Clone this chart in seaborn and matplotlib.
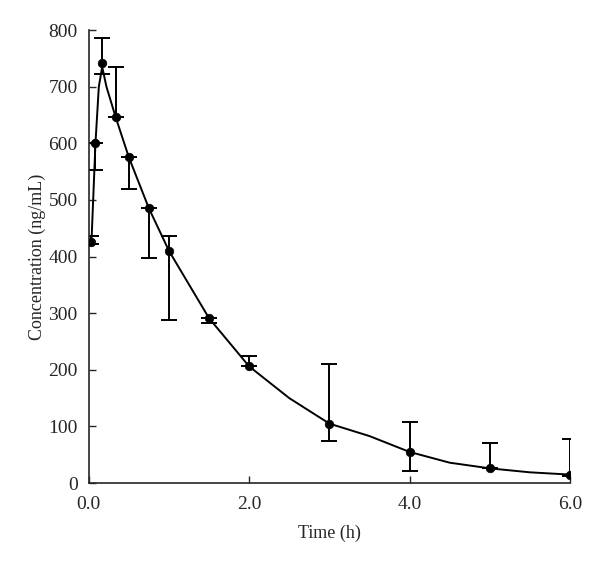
import numpy as np
import pandas as pd
import matplotlib
matplotlib.use("Agg")
import matplotlib.pyplot as plt
import seaborn as sns

# Measured mean concentrations with one-sided / asymmetric error bars
time_h = [0.033, 0.083, 0.167, 0.333, 0.5, 0.75, 1.0, 1.5, 2.0, 3.0, 4.0, 5.0, 6.0]
conc = [425, 600, 741, 647, 575, 485, 410, 291, 206, 105, 55, 26, 15]
err_low = [3, 48, 19, 0, 55, 87, 122, 8, 0, 30, 34, 0, 2]
err_high = [11, 0, 45, 88, 0, 0, 26, 0, 19, 106, 52, 45, 63]

# Smoothed curve drawn through the means (extra points read between samples)
curve_time = [0.033, 0.083, 0.125, 0.167, 0.22, 0.333, 0.5, 0.75, 1.0, 1.5, 2.0, 2.5, 3.0, 3.5, 4.0, 4.5, 5.0, 5.5, 6.0]
curve_conc = [425, 600, 700, 735, 700, 647, 575, 485, 410, 291, 206, 150, 105, 83, 55, 36, 26, 19, 15]

sns.set_style("ticks")
plt.rcParams['font.family'] = ['Liberation Serif', 'DejaVu Serif']

fig = plt.figure(figsize=(6, 5.67), dpi=100)
ax = fig.add_axes([0.148, 0.148, 0.802, 0.799])

curve = pd.DataFrame({'Time': curve_time, 'Conc': curve_conc})
pts = pd.DataFrame({'Time': time_h, 'Conc': conc})

sns.lineplot(data=curve, x='Time', y='Conc', color='black', linewidth=1.4, ax=ax)
ax.errorbar(time_h, conc, yerr=[err_low, err_high], fmt='none',
            ecolor='black', elinewidth=1.4, capsize=6, capthick=1.4)
sns.scatterplot(data=pts, x='Time', y='Conc', color='black', s=38,
                edgecolor='black', zorder=5, ax=ax)

ax.set_xlim(0, 6)
ax.set_ylim(0, 800)
ax.set_xticks([0, 2, 4, 6])
ax.set_xticklabels(['0.0', '2.0', '4.0', '6.0'])
ax.set_yticks(range(0, 801, 100))
ax.tick_params(direction='in', length=5, width=1, labelsize=14)
ax.tick_params(axis='x', pad=9)
ax.tick_params(axis='y', pad=8)
ax.set_xlabel('Time (h)', fontsize=13, labelpad=9)
ax.set_ylabel('Concentration (ng/mL)', fontsize=13, labelpad=2)
sns.despine(ax=ax)
for s in ['left', 'bottom']:
    ax.spines[s].set_linewidth(1.2)

fig.savefig('out.png', dpi=100)
